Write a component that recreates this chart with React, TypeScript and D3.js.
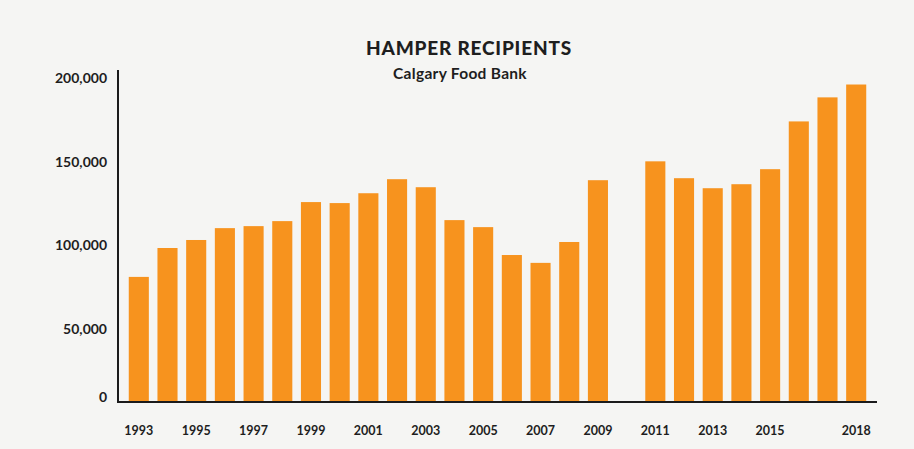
import React, { useEffect, useRef } from 'react';
import * as d3 from 'd3';

// hamper recipients per year (2010 has no bar)
const years = [
  1993, 1994, 1995, 1996, 1997, 1998, 1999, 2000, 2001, 2002, 2003, 2004, 2005,
  2006, 2007, 2008, 2009, 2010, 2011, 2012, 2013, 2014, 2015, 2016, 2017, 2018,
];
const recipients: (number | null)[] = [
  81200, 98500, 103300, 110400, 111600, 114600, 126000, 125400, 131300, 139700, 134900, 115200, 111000,
  94300, 89600, 102100, 139100, null, 150400, 140300, 134300, 136700, 145700, 174300, 188700, 196400,
];
const yTicks = [0, 50000, 100000, 150000, 200000];
const xTickYears = [1993, 1995, 1997, 1999, 2001, 2003, 2005, 2007, 2009, 2011, 2013, 2015, 2018];

const title = 'HAMPER RECIPIENTS';
const subtitle = 'Calgary Food Bank';

const W = 914;
const H = 449;

const App: React.FC = () => {
  const ref = useRef<SVGSVGElement>(null);

  useEffect(() => {
    drawChart();
  }, []);

  const drawChart = () => {
    const svg = d3.select(ref.current);
    svg.selectAll('*').remove();

    const left = 118;
    const right = 877;
    const baseline = 402; // drawn axis sits a bit above the scale's zero
    const font = 'Lato, "Open Sans", sans-serif';

    const x = d3.scaleBand<number>()
      .domain(years)
      .range([left, right])
      .paddingInner(0.3)
      .paddingOuter(0.375);

    const y = d3.scaleLinear()
      .domain([0, 200000])
      .range([412.5, 78.5]);

    // page background
    svg.append('rect')
      .attr('width', W)
      .attr('height', H)
      .attr('fill', '#f5f5f3');

    // bars
    const rows = years
      .map((yr, i) => ({ year: yr, value: recipients[i] }))
      .filter(d => d.value !== null) as { year: number; value: number }[];

    svg.append('g')
      .selectAll('rect')
      .data(rows)
      .enter().append('rect')
      .attr('x', d => x(d.year) ?? 0)
      .attr('y', d => y(d.value))
      .attr('width', x.bandwidth())
      .attr('height', d => baseline - y(d.value))
      .attr('fill', '#f7931e');

    // axis lines
    svg.append('line')
      .attr('x1', left).attr('x2', left)
      .attr('y1', 70).attr('y2', baseline + 1)
      .attr('stroke', '#1b1b1b')
      .attr('stroke-width', 2);
    svg.append('line')
      .attr('x1', left - 1).attr('x2', right)
      .attr('y1', baseline).attr('y2', baseline)
      .attr('stroke', '#1b1b1b')
      .attr('stroke-width', 2);

    // y tick labels (the zero label is lifted onto the axis line)
    const fmt = d3.format(',');
    svg.append('g')
      .selectAll('text')
      .data(yTicks)
      .enter().append('text')
      .attr('x', 107)
      .attr('y', d => (d === 0 ? baseline - 5 : y(d)))
      .attr('dy', '0.35em')
      .attr('text-anchor', 'end')
      .attr('font-family', font)
      .attr('font-weight', 700)
      .attr('font-size', 14)
      .attr('fill', '#1e1e1e')
      .text(d => fmt(d));

    // x tick labels
    svg.append('g')
      .selectAll('text')
      .data(xTickYears)
      .enter().append('text')
      .attr('x', d => (x(d) ?? 0) + x.bandwidth() / 2)
      .attr('y', 435)
      .attr('text-anchor', 'middle')
      .attr('font-family', font)
      .attr('font-weight', 700)
      .attr('font-size', 12.5)
      .attr('fill', '#1e1e1e')
      .text(d => String(d));

    // titles
    svg.append('text')
      .attr('x', 469)
      .attr('y', 55)
      .attr('text-anchor', 'middle')
      .attr('font-family', font)
      .attr('font-weight', 900)
      .attr('font-size', 19)
      .attr('letter-spacing', 0.8)
      .attr('fill', '#1e1e1e')
      .text(title);

    svg.append('text')
      .attr('x', 460)
      .attr('y', 79)
      .attr('text-anchor', 'middle')
      .attr('font-family', font)
      .attr('font-weight', 700)
      .attr('font-size', 15.5)
      .attr('letter-spacing', 0.3)
      .attr('fill', '#1e1e1e')
      .text(subtitle);
  };

  return (
    <svg
      ref={ref}
      width={W}
      height={H}
      style={{ position: 'fixed', left: 0, top: 0 }}
    />
  );
};

export default App;
